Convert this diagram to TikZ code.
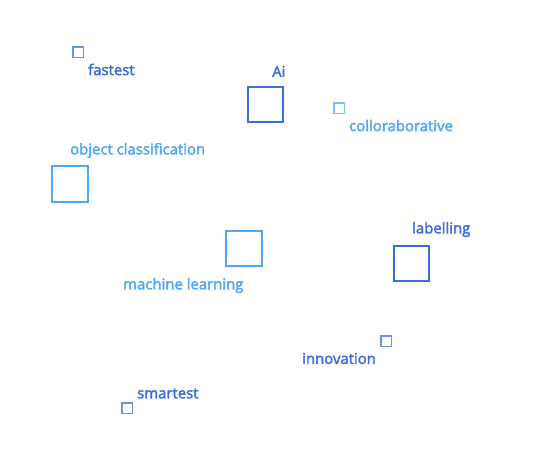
\documentclass[tikz,border=0pt]{standalone}
\usepackage{fontspec}
\setmainfont{Open Sans}
\newfontfamily\tagfont{Open Sans}[FakeBold=2.5]
\definecolor{deepblue}{HTML}{3D6EE0}
\definecolor{skyblue}{HTML}{4FA8F5}
\tikzset{
  bigbox/.style={draw, line width=2pt, minimum size=35.5pt, inner sep=0pt},
  smallbox/.style={draw, line width=1.5pt, minimum size=10.5pt, inner sep=0pt, draw opacity=0.75},
  tag/.style={anchor=west, inner sep=0pt, font=\tagfont\fontsize{14.9}{16}\selectfont}
}
\begin{document}
\begin{tikzpicture}[x=1pt,y=-1pt]
  \useasboundingbox (0,0) rectangle (536,474);
  % squares
  \node[smallbox, deepblue] (fastestbox) at (78,52) {};
  \node[bigbox, deepblue] (aibox) at (265.5,104.5) {};
  \node[smallbox, skyblue] (collabbox) at (339,108) {};
  \node[bigbox, skyblue] (objbox) at (70,184) {};
  \node[bigbox, skyblue] (mlbox) at (244,248.5) {};
  \node[bigbox, deepblue] (labbox) at (411.5,263.5) {};
  \node[smallbox, deepblue] (innobox) at (386,341) {};
  \node[smallbox, deepblue] (smartbox) at (127,408) {};
  % labels
  \node[tag, deepblue] (fastest) at (88,69.5) {fastest};
  \node[tag, deepblue] (ai) at (272,71.5) {Ai};
  \node[tag, skyblue] (collab) at (349,125.5) {colloraborative};
  \node[tag, skyblue] (obj) at (70,150.5) {object classification};
  \node[tag, skyblue] (ml) at (123,285.5) {machine learning};
  \node[tag, deepblue] (lab) at (412,229.5) {labelling};
  \node[tag, deepblue] (inno) at (302,358.5) {innovation};
  \node[tag, deepblue] (smart) at (137,393.5) {smartest};
\end{tikzpicture}
\end{document}
